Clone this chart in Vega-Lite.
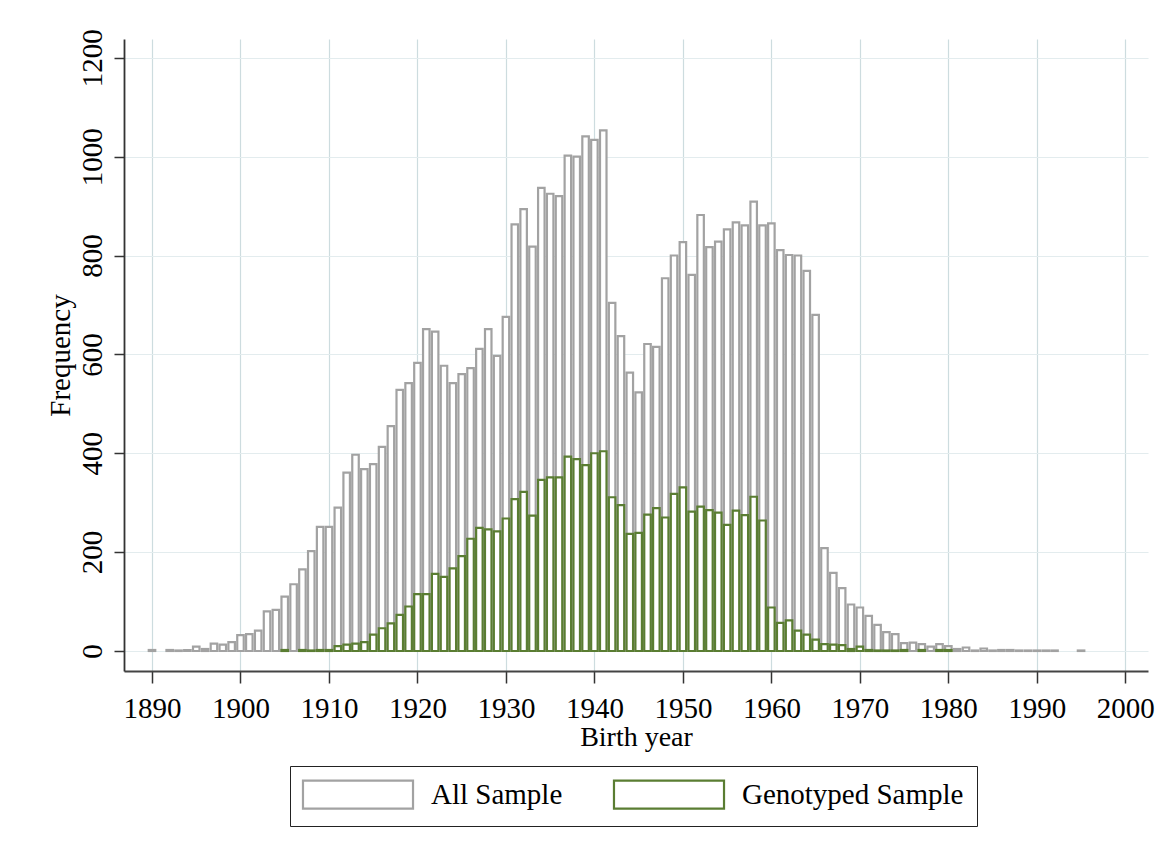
{
  "$schema": "https://vega.github.io/schema/vega-lite/v6.json",
  "width": 1024,
  "height": 632,
  "autosize": {"type": "none"},
  "padding": {"left": 124, "top": 39, "right": 19, "bottom": 184},
  "background": "white",
  "config": {
    "font": "Liberation Serif",
    "view": {"stroke": null}
  },
  "datasets": {
    "all": [
      {"year": 1890, "count": 2, "sample": "All Sample"},
      {"year": 1892, "count": 2, "sample": "All Sample"},
      {"year": 1893, "count": 1, "sample": "All Sample"},
      {"year": 1894, "count": 2, "sample": "All Sample"},
      {"year": 1895, "count": 9, "sample": "All Sample"},
      {"year": 1896, "count": 4, "sample": "All Sample"},
      {"year": 1897, "count": 15, "sample": "All Sample"},
      {"year": 1898, "count": 13, "sample": "All Sample"},
      {"year": 1899, "count": 18, "sample": "All Sample"},
      {"year": 1900, "count": 32, "sample": "All Sample"},
      {"year": 1901, "count": 34, "sample": "All Sample"},
      {"year": 1902, "count": 41, "sample": "All Sample"},
      {"year": 1903, "count": 80, "sample": "All Sample"},
      {"year": 1904, "count": 83, "sample": "All Sample"},
      {"year": 1905, "count": 110, "sample": "All Sample"},
      {"year": 1906, "count": 135, "sample": "All Sample"},
      {"year": 1907, "count": 165, "sample": "All Sample"},
      {"year": 1908, "count": 202, "sample": "All Sample"},
      {"year": 1909, "count": 251, "sample": "All Sample"},
      {"year": 1910, "count": 251, "sample": "All Sample"},
      {"year": 1911, "count": 290, "sample": "All Sample"},
      {"year": 1912, "count": 361, "sample": "All Sample"},
      {"year": 1913, "count": 397, "sample": "All Sample"},
      {"year": 1914, "count": 368, "sample": "All Sample"},
      {"year": 1915, "count": 378, "sample": "All Sample"},
      {"year": 1916, "count": 413, "sample": "All Sample"},
      {"year": 1917, "count": 455, "sample": "All Sample"},
      {"year": 1918, "count": 528, "sample": "All Sample"},
      {"year": 1919, "count": 542, "sample": "All Sample"},
      {"year": 1920, "count": 583, "sample": "All Sample"},
      {"year": 1921, "count": 651, "sample": "All Sample"},
      {"year": 1922, "count": 646, "sample": "All Sample"},
      {"year": 1923, "count": 577, "sample": "All Sample"},
      {"year": 1924, "count": 542, "sample": "All Sample"},
      {"year": 1925, "count": 560, "sample": "All Sample"},
      {"year": 1926, "count": 572, "sample": "All Sample"},
      {"year": 1927, "count": 611, "sample": "All Sample"},
      {"year": 1928, "count": 651, "sample": "All Sample"},
      {"year": 1929, "count": 597, "sample": "All Sample"},
      {"year": 1930, "count": 676, "sample": "All Sample"},
      {"year": 1931, "count": 863, "sample": "All Sample"},
      {"year": 1932, "count": 894, "sample": "All Sample"},
      {"year": 1933, "count": 818, "sample": "All Sample"},
      {"year": 1934, "count": 937, "sample": "All Sample"},
      {"year": 1935, "count": 925, "sample": "All Sample"},
      {"year": 1936, "count": 920, "sample": "All Sample"},
      {"year": 1937, "count": 1002, "sample": "All Sample"},
      {"year": 1938, "count": 1000, "sample": "All Sample"},
      {"year": 1939, "count": 1041, "sample": "All Sample"},
      {"year": 1940, "count": 1034, "sample": "All Sample"},
      {"year": 1941, "count": 1053, "sample": "All Sample"},
      {"year": 1942, "count": 704, "sample": "All Sample"},
      {"year": 1943, "count": 637, "sample": "All Sample"},
      {"year": 1944, "count": 563, "sample": "All Sample"},
      {"year": 1945, "count": 523, "sample": "All Sample"},
      {"year": 1946, "count": 621, "sample": "All Sample"},
      {"year": 1947, "count": 615, "sample": "All Sample"},
      {"year": 1948, "count": 754, "sample": "All Sample"},
      {"year": 1949, "count": 800, "sample": "All Sample"},
      {"year": 1950, "count": 827, "sample": "All Sample"},
      {"year": 1951, "count": 761, "sample": "All Sample"},
      {"year": 1952, "count": 882, "sample": "All Sample"},
      {"year": 1953, "count": 817, "sample": "All Sample"},
      {"year": 1954, "count": 828, "sample": "All Sample"},
      {"year": 1955, "count": 853, "sample": "All Sample"},
      {"year": 1956, "count": 867, "sample": "All Sample"},
      {"year": 1957, "count": 861, "sample": "All Sample"},
      {"year": 1958, "count": 909, "sample": "All Sample"},
      {"year": 1959, "count": 861, "sample": "All Sample"},
      {"year": 1960, "count": 865, "sample": "All Sample"},
      {"year": 1961, "count": 811, "sample": "All Sample"},
      {"year": 1962, "count": 801, "sample": "All Sample"},
      {"year": 1963, "count": 800, "sample": "All Sample"},
      {"year": 1964, "count": 769, "sample": "All Sample"},
      {"year": 1965, "count": 680, "sample": "All Sample"},
      {"year": 1966, "count": 208, "sample": "All Sample"},
      {"year": 1967, "count": 158, "sample": "All Sample"},
      {"year": 1968, "count": 127, "sample": "All Sample"},
      {"year": 1969, "count": 94, "sample": "All Sample"},
      {"year": 1970, "count": 88, "sample": "All Sample"},
      {"year": 1971, "count": 71, "sample": "All Sample"},
      {"year": 1972, "count": 53, "sample": "All Sample"},
      {"year": 1973, "count": 38, "sample": "All Sample"},
      {"year": 1974, "count": 34, "sample": "All Sample"},
      {"year": 1975, "count": 16, "sample": "All Sample"},
      {"year": 1976, "count": 17, "sample": "All Sample"},
      {"year": 1977, "count": 14, "sample": "All Sample"},
      {"year": 1978, "count": 9, "sample": "All Sample"},
      {"year": 1979, "count": 14, "sample": "All Sample"},
      {"year": 1980, "count": 10, "sample": "All Sample"},
      {"year": 1981, "count": 4, "sample": "All Sample"},
      {"year": 1982, "count": 7, "sample": "All Sample"},
      {"year": 1983, "count": 1, "sample": "All Sample"},
      {"year": 1984, "count": 5, "sample": "All Sample"},
      {"year": 1985, "count": 1, "sample": "All Sample"},
      {"year": 1986, "count": 2, "sample": "All Sample"},
      {"year": 1987, "count": 2, "sample": "All Sample"},
      {"year": 1988, "count": 1, "sample": "All Sample"},
      {"year": 1989, "count": 1, "sample": "All Sample"},
      {"year": 1990, "count": 1, "sample": "All Sample"},
      {"year": 1991, "count": 1, "sample": "All Sample"},
      {"year": 1992, "count": 1, "sample": "All Sample"},
      {"year": 1995, "count": 1, "sample": "All Sample"}
    ],
    "geno": [
      {"year": 1905, "count": 2, "sample": "Genotyped Sample"},
      {"year": 1907, "count": 2, "sample": "Genotyped Sample"},
      {"year": 1908, "count": 1, "sample": "Genotyped Sample"},
      {"year": 1909, "count": 2, "sample": "Genotyped Sample"},
      {"year": 1910, "count": 2, "sample": "Genotyped Sample"},
      {"year": 1911, "count": 10, "sample": "Genotyped Sample"},
      {"year": 1912, "count": 13, "sample": "Genotyped Sample"},
      {"year": 1913, "count": 15, "sample": "Genotyped Sample"},
      {"year": 1914, "count": 18, "sample": "Genotyped Sample"},
      {"year": 1915, "count": 33, "sample": "Genotyped Sample"},
      {"year": 1916, "count": 46, "sample": "Genotyped Sample"},
      {"year": 1917, "count": 56, "sample": "Genotyped Sample"},
      {"year": 1918, "count": 73, "sample": "Genotyped Sample"},
      {"year": 1919, "count": 90, "sample": "Genotyped Sample"},
      {"year": 1920, "count": 115, "sample": "Genotyped Sample"},
      {"year": 1921, "count": 115, "sample": "Genotyped Sample"},
      {"year": 1922, "count": 156, "sample": "Genotyped Sample"},
      {"year": 1923, "count": 150, "sample": "Genotyped Sample"},
      {"year": 1924, "count": 167, "sample": "Genotyped Sample"},
      {"year": 1925, "count": 192, "sample": "Genotyped Sample"},
      {"year": 1926, "count": 227, "sample": "Genotyped Sample"},
      {"year": 1927, "count": 249, "sample": "Genotyped Sample"},
      {"year": 1928, "count": 246, "sample": "Genotyped Sample"},
      {"year": 1929, "count": 242, "sample": "Genotyped Sample"},
      {"year": 1930, "count": 268, "sample": "Genotyped Sample"},
      {"year": 1931, "count": 307, "sample": "Genotyped Sample"},
      {"year": 1932, "count": 322, "sample": "Genotyped Sample"},
      {"year": 1933, "count": 274, "sample": "Genotyped Sample"},
      {"year": 1934, "count": 346, "sample": "Genotyped Sample"},
      {"year": 1935, "count": 351, "sample": "Genotyped Sample"},
      {"year": 1936, "count": 351, "sample": "Genotyped Sample"},
      {"year": 1937, "count": 393, "sample": "Genotyped Sample"},
      {"year": 1938, "count": 388, "sample": "Genotyped Sample"},
      {"year": 1939, "count": 376, "sample": "Genotyped Sample"},
      {"year": 1940, "count": 400, "sample": "Genotyped Sample"},
      {"year": 1941, "count": 404, "sample": "Genotyped Sample"},
      {"year": 1942, "count": 311, "sample": "Genotyped Sample"},
      {"year": 1943, "count": 295, "sample": "Genotyped Sample"},
      {"year": 1944, "count": 237, "sample": "Genotyped Sample"},
      {"year": 1945, "count": 239, "sample": "Genotyped Sample"},
      {"year": 1946, "count": 276, "sample": "Genotyped Sample"},
      {"year": 1947, "count": 289, "sample": "Genotyped Sample"},
      {"year": 1948, "count": 270, "sample": "Genotyped Sample"},
      {"year": 1949, "count": 318, "sample": "Genotyped Sample"},
      {"year": 1950, "count": 331, "sample": "Genotyped Sample"},
      {"year": 1951, "count": 282, "sample": "Genotyped Sample"},
      {"year": 1952, "count": 292, "sample": "Genotyped Sample"},
      {"year": 1953, "count": 285, "sample": "Genotyped Sample"},
      {"year": 1954, "count": 280, "sample": "Genotyped Sample"},
      {"year": 1955, "count": 255, "sample": "Genotyped Sample"},
      {"year": 1956, "count": 284, "sample": "Genotyped Sample"},
      {"year": 1957, "count": 275, "sample": "Genotyped Sample"},
      {"year": 1958, "count": 312, "sample": "Genotyped Sample"},
      {"year": 1959, "count": 264, "sample": "Genotyped Sample"},
      {"year": 1960, "count": 88, "sample": "Genotyped Sample"},
      {"year": 1961, "count": 57, "sample": "Genotyped Sample"},
      {"year": 1962, "count": 62, "sample": "Genotyped Sample"},
      {"year": 1963, "count": 41, "sample": "Genotyped Sample"},
      {"year": 1964, "count": 33, "sample": "Genotyped Sample"},
      {"year": 1965, "count": 23, "sample": "Genotyped Sample"},
      {"year": 1966, "count": 14, "sample": "Genotyped Sample"},
      {"year": 1967, "count": 13, "sample": "Genotyped Sample"},
      {"year": 1968, "count": 12, "sample": "Genotyped Sample"},
      {"year": 1969, "count": 4, "sample": "Genotyped Sample"},
      {"year": 1970, "count": 9, "sample": "Genotyped Sample"},
      {"year": 1971, "count": 2, "sample": "Genotyped Sample"},
      {"year": 1972, "count": 1, "sample": "Genotyped Sample"},
      {"year": 1973, "count": 1, "sample": "Genotyped Sample"},
      {"year": 1974, "count": 1, "sample": "Genotyped Sample"},
      {"year": 1975, "count": 2, "sample": "Genotyped Sample"},
      {"year": 1977, "count": 2, "sample": "Genotyped Sample"},
      {"year": 1979, "count": 2, "sample": "Genotyped Sample"},
      {"year": 1980, "count": 2, "sample": "Genotyped Sample"}
    ]
  },
  "encoding": {
    "x": {
      "field": "year",
      "type": "quantitative",
      "scale": {"domain": [1887.4, 2002.0], "nice": false, "zero": false},
      "axis": {
        "title": "Birth year",
        "values": [1890, 1900, 1910, 1920, 1930, 1940, 1950, 1960, 1970, 1980, 1990, 2000],
        "format": "d",
        "labelFont": "Liberation Serif",
        "labelFontSize": 29,
        "labelColor": "black",
        "labelBaseline": "alphabetic",
        "labelPadding": 34,
        "labelFlush": false,
        "labelOverlap": false,
        "tickSize": 12,
        "tickColor": "#333333",
        "tickWidth": 1.5,
        "domainColor": "#444444",
        "domainWidth": 1.8,
        "grid": true,
        "gridColor": "#cddcdf",
        "gridWidth": 1.2,
        "titleFont": "Liberation Serif",
        "titleFontSize": 28,
        "titleFontWeight": "normal",
        "titleColor": "black",
        "titleBaseline": "alphabetic",
        "titleY": 74
      }
    },
    "y": {
      "field": "count",
      "type": "quantitative",
      "stack": null,
      "scale": {"domain": [-40.5, 1238], "nice": false, "zero": false},
      "axis": {
        "title": "Frequency",
        "values": [0, 200, 400, 600, 800, 1000, 1200],
        "format": "d",
        "labelFont": "Liberation Serif",
        "labelFontSize": 29,
        "labelColor": "black",
        "labelAngle": -90,
        "labelAlign": "center",
        "labelBaseline": "alphabetic",
        "labelPadding": 13,
        "labelFlush": false,
        "labelOverlap": false,
        "tickSize": 10,
        "tickColor": "#333333",
        "tickWidth": 1.5,
        "domainColor": "#333333",
        "domainWidth": 1.8,
        "grid": true,
        "gridColor": "#e3ecee",
        "gridWidth": 1.2,
        "titleFont": "Liberation Serif",
        "titleFontSize": 29,
        "titleFontWeight": "normal",
        "titleColor": "black",
        "titleAngle": -90,
        "titleBaseline": "alphabetic",
        "titleAlign": "center",
        "titleX": -55,
        "titleY": 316
      }
    }
  },
  "layer": [
    {
      "data": {"name": "all"},
      "mark": {"type": "bar", "size": 6.5, "fill": "white", "strokeWidth": 2.2},
      "encoding": {
        "stroke": {
          "field": "sample",
          "type": "nominal",
          "scale": {"domain": ["All Sample", "Genotyped Sample"], "range": ["#a2a2a2", "#5a7d32"]},
          "legend": {
            "title": null,
            "orient": "none",
            "legendX": 166,
            "legendY": 727,
            "direction": "horizontal",
            "symbolType": "M-3.93,-1H3.93V1H-3.93Z",
            "symbolSize": 784,
            "symbolOffset": 39.5,
            "symbolStrokeWidth": 2.2,
            "symbolFillColor": "white",
            "labelFont": "Liberation Serif",
            "labelFontSize": 29,
            "labelLimit": 500,
            "labelColor": "black",
            "labelOffset": 57.5,
            "columnPadding": 46,
            "padding": 13,
            "strokeColor": "#222222",
            "fillColor": "white"
          }
        }
      }
    },
    {
      "data": {"name": "geno"},
      "mark": {"type": "bar", "size": 6.5, "fill": "white", "strokeWidth": 2.2},
      "encoding": {
        "stroke": {"field": "sample", "type": "nominal"}
      }
    },
    {
      "data": {"values": [{}]},
      "mark": {"type": "rule", "color": "#555555", "strokeWidth": 1.6},
      "encoding": {"y": {"datum": 100}}
    }
  ]
}
